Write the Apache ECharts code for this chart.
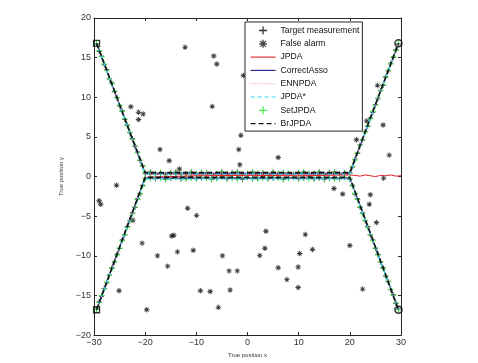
<!DOCTYPE html>
<html>
<head>
<meta charset="utf-8">
<script src="https://cdn.jsdelivr.net/npm/echarts@6/dist/echarts.min.js"></script>
<style>
  html,body{margin:0;padding:0;background:#fff;}
  #chart{width:478px;height:363px;}
</style>
</head>
<body>
<div id="chart"></div>
<script>
// x position of every time step (shared by both targets)
var stepX = [-29.5,-29,-28.5,-28,-27.5,-27,-26.5,-26,-25.5,-25,-24.5,-24,-23.5,-23,-22.5,-22,-21.5,-21,-20.5,-20,
  -19,-18,-17,-16,-15,-14,-13,-12,-11,-10,-9,-8,-7,-6,-5,-4,-3,-2,-1,0,1,2,3,4,5,6,7,8,9,10,11,12,13,14,15,16,17,18,19,
  20,20.5,21,21.5,22,22.5,23,23.5,24,24.5,25,25.5,26,26.5,27,27.5,28,28.5,29,29.5];

// target measurements (y per step)
var measAY = [16.7,15.8,15.2,14.1,13.5,12.3,11.8,10.7,10.0,8.9,8.3,7.2,6.5,5.5,4.8,3.8,3.1,2.0,1.4,0.4,
  0.6,0.3,0.5,0.2,0.5,0.6,0.3,0.4,0.6,0.3,0.5,0.5,0.2,0.4,0.6,0.3,0.5,0.6,0.2,0.4,0.6,0.3,0.5,0.2,0.6,0.4,0.5,0.3,0.2,0.5,0.6,0.3,0.4,0.6,0.2,0.5,0.6,0.3,0.5,
  0.5,1.2,2.2,2.9,4.0,4.6,5.7,6.3,7.4,8.1,9.1,9.8,10.9,11.5,12.6,13.3,14.3,15.0,16.0,16.7];
var measBY = [-16.7,-15.8,-15.1,-14.1,-13.4,-12.4,-11.5,-10.8,-9.8,-9.1,-8.0,-7.4,-6.3,-5.6,-4.6,-3.9,-2.8,-2.2,-1.1,-0.2,
  -0.1,-0.3,-0.1,-0.4,-0.2,0.0,-0.3,-0.2,0.0,-0.3,-0.2,-0.1,-0.4,-0.2,0.0,-0.3,-0.1,-0.2,-0.4,-0.1,-0.3,-0.2,0.0,-0.3,-0.2,-0.1,-0.4,-0.2,-0.1,-0.3,-0.2,0.0,-0.3,-0.2,-0.4,-0.1,-0.2,-0.3,-0.1,
  -0.4,-1.1,-2.2,-2.8,-3.9,-4.6,-5.6,-6.3,-7.4,-8.0,-9.1,-9.8,-10.8,-11.5,-12.6,-13.2,-14.3,-14.9,-16.0,-16.7];

// SetJPDA estimates (y per step)
var setAY = [16.8,15.9,15.1,14.2,13.4,12.4,11.7,10.8,9.9,9.0,8.2,7.3,6.4,5.6,4.7,3.9,3.0,2.1,1.3,0.5,
  0.5,0.4,0.5,0.3,0.4,0.5,0.4,0.3,0.5,0.4,0.5,0.4,0.3,0.4,0.5,0.4,0.4,0.5,0.3,0.4,0.5,0.4,0.4,0.3,0.5,0.4,0.5,0.4,0.3,0.4,0.5,0.4,0.4,0.5,0.3,0.4,0.5,0.4,0.4,
  0.4,1.3,2.1,3.0,3.9,4.7,5.6,6.4,7.3,8.2,9.0,9.9,10.8,11.6,12.5,13.4,14.2,15.1,15.9,16.8];
var setBY = [-16.8,-15.9,-15.0,-14.2,-13.3,-12.5,-11.6,-10.7,-9.9,-9.0,-8.1,-7.3,-6.4,-5.5,-4.7,-3.8,-2.9,-2.1,-1.2,-0.3,
  -0.2,-0.1,-0.2,-0.3,-0.2,-0.1,-0.2,-0.3,-0.2,-0.2,-0.1,-0.2,-0.3,-0.2,-0.1,-0.2,-0.2,-0.3,-0.2,-0.1,-0.2,-0.3,-0.2,-0.2,-0.1,-0.2,-0.3,-0.2,-0.1,-0.2,-0.2,-0.3,-0.2,-0.1,-0.2,-0.2,-0.3,-0.2,-0.1,
  -0.3,-1.2,-2.1,-2.9,-3.8,-4.7,-5.5,-6.4,-7.3,-8.1,-9.0,-9.9,-10.7,-11.6,-12.5,-13.3,-14.2,-15.0,-15.9,-16.8];

// false alarms [x, y]
var falseAlarm = [[-22.8,8.8],[-21.3,8.1],[-20.4,7.9],[-21.3,7.2],[-12.2,16.3],[-6.6,15.2],[-6.0,14.2],[-6.9,8.85],
  [-17.1,3.4],[-15.3,2.0],[-13.3,0.95],[-25.6,-1.1],[-29.0,-3.05],[-28.7,-3.5],[-22.4,-5.5],[-20.6,-8.4],[-25.1,-14.4],
  [-19.7,-16.8],[-17.6,-10.0],[-15.6,-11.3],[-14.8,-7.5],[-14.4,-7.4],[-13.7,-9.5],[-11.7,-4.0],[-9.95,-4.9],[-10.6,-9.3],
  [-9.2,-14.4],[-7.3,-14.5],[-5.7,-16.5],[-4.9,-10.0],[-3.6,-11.9],[-3.4,-14.3],[-2.0,-11.9],[3.6,-6.9],[3.4,-9.05],
  [2.4,-9.95],[6.0,-11.5],[7.7,-13.0],[9.9,-11.4],[10.2,-9.7],[11.3,-7.3],[12.7,-9.2],[9.9,-14.0],[16.9,-1.5],[18.6,-2.2],
  [20.0,-8.7],[24.0,-2.3],[23.8,-3.5],[25.2,-5.8],[22.5,-14.2],[26.6,-0.2],[25.4,11.5],[26.5,6.5],[21.3,4.65],[19.2,7.0],
  [23.3,7.0],[27.7,2.7],[-0.8,12.75],[10.6,6.6],[-1.3,5.2],[-1.7,3.4],[6.0,2.4],[-1.5,1.5]];

// track estimates of each method (corner points)
var jpdaA = [[-29.5,16.8],[-20,0.3],[20,0.3],[29.5,16.8]];
var jpdaB = [[-29.5,-16.8],[-20,-0.1],[-10,0.1],[0,0.15],[10,0.1],[20,0.2],[21,0.15],[22,0.05],[23,0.2],[24,0.1],[25,0.0],
  [26,0.15],[27,0.1],[28,0.2],[29,0.05],[30,0.1]];
var corrA = [[-29.5,16.8],[-20,0.4],[20,0.4],[29.5,16.8]];
var corrB = [[-29.5,-16.8],[-20,-0.2],[20,-0.2],[29.5,-16.8]];
var ennA = [[-29.5,16.8],[-20,0.35],[20,0.35],[29.5,16.8]];
var ennB = [[-29.5,-16.8],[-20,-0.15],[20,-0.15],[29.5,-16.8]];
var jstarA = [[-29.5,16.8],[-20,0.3],[20,0.3],[29.5,16.8]];
var jstarB = [[-29.5,-16.8],[-20,-0.3],[20,-0.3],[29.5,-16.8]];
var brA = [[-29.5,16.8],[-20,0.5],[20,0.5],[29.5,16.8]];
var brB = [[-29.5,-16.8],[-20,-0.1],[20,-0.1],[29.5,-16.8]];

var startPts = [[-29.5,16.8],[-29.5,-16.8]];
var endPts = [[29.5,16.8],[29.5,-16.8]];

var legendNames = ['Target measurement','False alarm','JPDA','CorrectAsso','ENNPDA','JPDA*','SetJPDA','BrJPDA'];
var lineNames = ['JPDA','CorrectAsso','ENNPDA','JPDA*','BrJPDA'];

function pts(ys){
  var out = [];
  for(var i=0;i<stepX.length;i++){
    out.push([stepX[i], ys[i]]);
  }
  return out;
}

var plusPath = 'path://M4.2,0H5.8V4.2H10V5.8H5.8V10H4.2V5.8H0V4.2H4.2Z';
var starPath = 'path://M0,8.4L20,8.4L20,11.6L0,11.6Z M8.4,0L11.6,0L11.6,20L8.4,20Z M1.9,4.1L4.1,1.9L18.1,15.9L15.9,18.1Z M15.9,1.9L18.1,4.1L4.1,18.1L1.9,15.9Z';
var font = '"Liberation Sans", Arial, Helvetica, sans-serif';
var axisColor = '#262626';

function minusFmt(v){ return String(v).replace('-', '\u2212'); }

function lineSeries(name, data, color, type, width){
  return {
    name: name, type: 'line', data: data, symbol: 'none', silent: true,
    lineStyle: {color: color, width: width, type: type},
    itemStyle: {color: color}
  };
}

// legend entries: hide the symbol that echarts puts on line icons, keep thin lines
var legendData = legendNames.map(function(n){
  if(lineNames.indexOf(n) >= 0){
    return {name: n, itemStyle: {opacity: 0}, lineStyle: {width: 1.1}};
  }
  return {name: n};
});

var chart = echarts.init(document.getElementById('chart'));

var option = {
  animation: false,
  backgroundColor: '#fff',
  textStyle: {fontFamily: font},
  grid: {left: 94, right: 77, top: 18, bottom: 21, containLabel: false},
  legend: {
    data: legendData,
    orient: 'vertical',
    left: 245, top: 22,
    itemWidth: 25, itemHeight: 8, itemGap: 4.3,
    padding: [4, 3, 3, 5],
    borderColor: axisColor, borderWidth: 1,
    backgroundColor: '#fff',
    textStyle: {fontSize: 8.6, color: '#111', fontFamily: font},
    selectedMode: false
  },
  xAxis: [{
    type: 'value', min: -30, max: 30, interval: 10, position: 'bottom',
    name: 'True position x', nameLocation: 'middle', nameGap: 10,
    nameTextStyle: {fontSize: 6, color: '#333'},
    axisLine: {show: true, onZero: false, lineStyle: {color: axisColor, width: 1}},
    axisTick: {show: true, inside: true, length: 3, lineStyle: {color: axisColor}},
    axisLabel: {fontSize: 9, color: '#333', margin: 3, formatter: minusFmt},
    splitLine: {show: false}
  }, {
    type: 'value', min: -30, max: 30, interval: 10, position: 'top',
    axisLine: {show: true, onZero: false, lineStyle: {color: axisColor, width: 1}},
    axisTick: {show: true, inside: true, length: 3, lineStyle: {color: axisColor}},
    axisLabel: {show: false}, splitLine: {show: false}
  }],
  yAxis: [{
    type: 'value', min: -20, max: 20, interval: 5, position: 'left',
    name: 'True position y', nameLocation: 'middle', nameGap: 21,
    nameTextStyle: {fontSize: 6, color: '#333'},
    axisLine: {show: true, onZero: false, lineStyle: {color: axisColor, width: 1}},
    axisTick: {show: true, inside: true, length: 3, lineStyle: {color: axisColor}},
    axisLabel: {fontSize: 9, color: '#333', margin: 3, formatter: minusFmt},
    splitLine: {show: false}
  }, {
    type: 'value', min: -20, max: 20, interval: 5, position: 'right',
    axisLine: {show: true, onZero: false, lineStyle: {color: axisColor, width: 1}},
    axisTick: {show: true, inside: true, length: 3, lineStyle: {color: axisColor}},
    axisLabel: {show: false}, splitLine: {show: false}
  }],
  series: [
    {name: 'Target measurement', type: 'scatter', symbol: plusPath, symbolSize: 5, silent: true,
     itemStyle: {color: '#000'}, data: pts(measAY).concat(pts(measBY))},
    {name: 'False alarm', type: 'scatter', symbol: starPath, symbolSize: 5.5, silent: true,
     itemStyle: {color: '#111'}, data: falseAlarm},
    lineSeries('JPDA', jpdaA, '#e8202a', 'solid', 1),
    lineSeries('JPDA', jpdaB, '#e8202a', 'solid', 1),
    lineSeries('CorrectAsso', corrA, '#1c1c8c', 'solid', 1.2),
    lineSeries('CorrectAsso', corrB, '#1c1c8c', 'solid', 1.2),
    lineSeries('ENNPDA', ennA, '#f0a0e0', 'dotted', 1),
    lineSeries('ENNPDA', ennB, '#f0a0e0', 'dotted', 1),
    lineSeries('JPDA*', jstarA, '#2ee0f0', [4,3], 1.2),
    lineSeries('JPDA*', jstarB, '#2ee0f0', [4,3], 1.2),
    {name: 'SetJPDA', type: 'scatter', symbol: plusPath, symbolSize: 6, silent: true,
     itemStyle: {color: '#22e622'}, data: pts(setAY).concat(pts(setBY))},
    lineSeries('BrJPDA', brA, '#111', [5,3], 1.6),
    lineSeries('BrJPDA', brB, '#111', [5,3], 1.6),
    {name: 'start', type: 'scatter', symbol: 'rect', symbolSize: 6, silent: true,
     itemStyle: {color: 'rgba(0,0,0,0)', borderColor: '#000', borderWidth: 1.3}, data: startPts},
    {name: 'end', type: 'scatter', symbol: 'circle', symbolSize: 7, silent: true,
     itemStyle: {color: 'rgba(0,0,0,0)', borderColor: '#000', borderWidth: 1.5}, data: endPts}
  ]
};

chart.setOption(option);
</script>
</body>
</html>
